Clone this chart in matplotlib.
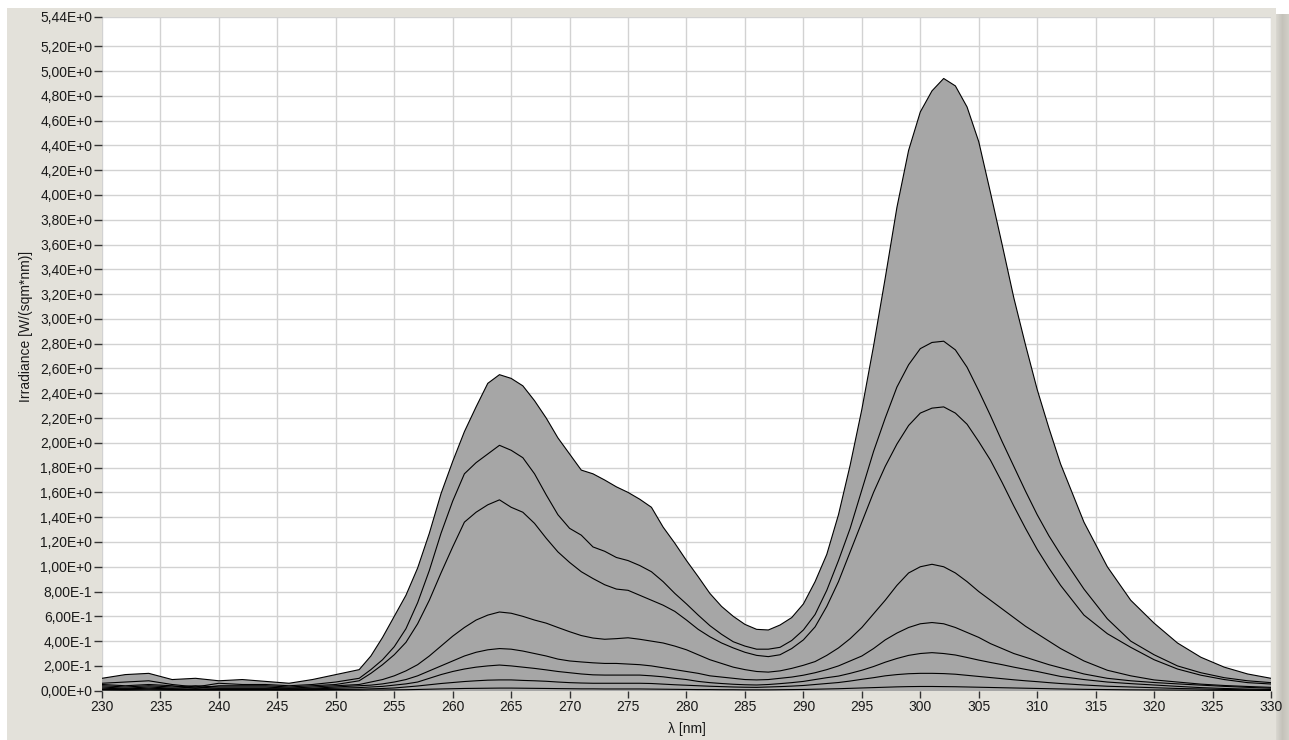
import numpy as np
import matplotlib
matplotlib.use("Agg")
import matplotlib.pyplot as plt
from matplotlib.patches import Rectangle
from matplotlib.ticker import FuncFormatter

plt.rcParams['font.family'] = ['Liberation Sans', 'DejaVu Sans']

# wavelength grid [nm]
wavelength = ([230, 232, 234, 236, 238, 240, 242, 244, 246, 248, 250, 252]
              + list(range(253, 313))
              + [314, 316, 318, 320, 322, 324, 326, 328, 330])

s1 = [0.10, 0.13, 0.14, 0.09, 0.10, 0.08, 0.09, 0.075, 0.06, 0.09, 0.13, 0.17,
      0.28, 0.43, 0.60, 0.77, 0.99, 1.27, 1.59, 1.85, 2.09, 2.29, 2.48, 2.55, 2.52, 2.46,
      2.34, 2.20, 2.04, 1.91, 1.78, 1.75, 1.70, 1.645, 1.60, 1.545, 1.48, 1.32, 1.19, 1.05,
      0.92, 0.785, 0.68, 0.60, 0.535, 0.495, 0.49, 0.53, 0.59, 0.70, 0.88, 1.10, 1.42, 1.82,
      2.27, 2.78, 3.33, 3.90, 4.36, 4.67, 4.84, 4.94, 4.88, 4.71, 4.43, 4.02, 3.60, 3.17,
      2.79, 2.43, 2.12, 1.83,
      1.36, 1.00, 0.73, 0.545, 0.385, 0.27, 0.19, 0.135, 0.10]

s2 = [0.06, 0.07, 0.08, 0.05, 0.03, 0.06, 0.05, 0.05, 0.04, 0.05, 0.07, 0.10,
      0.17, 0.25, 0.355, 0.50, 0.71, 0.97, 1.27, 1.53, 1.75, 1.84, 1.91, 1.98, 1.94, 1.88,
      1.75, 1.58, 1.42, 1.31, 1.255, 1.16, 1.125, 1.075, 1.05, 1.01, 0.96, 0.88, 0.785, 0.70,
      0.61, 0.525, 0.455, 0.395, 0.36, 0.335, 0.335, 0.35, 0.405, 0.49, 0.615, 0.81, 1.05, 1.31,
      1.62, 1.93, 2.20, 2.45, 2.63, 2.76, 2.81, 2.82, 2.75, 2.61, 2.42, 2.22, 2.01, 1.81,
      1.61, 1.42, 1.25, 1.10,
      0.82, 0.58, 0.40, 0.29, 0.20, 0.145, 0.105, 0.08, 0.065]

s3 = [0.05, 0.04, 0.05, 0.04, 0.02, 0.04, 0.04, 0.04, 0.03, 0.04, 0.05, 0.08,
      0.14, 0.21, 0.29, 0.39, 0.54, 0.73, 0.95, 1.16, 1.36, 1.44, 1.50, 1.54, 1.48, 1.44,
      1.35, 1.23, 1.12, 1.035, 0.96, 0.905, 0.855, 0.82, 0.81, 0.77, 0.73, 0.69, 0.64, 0.57,
      0.495, 0.435, 0.385, 0.345, 0.31, 0.285, 0.275, 0.29, 0.34, 0.41, 0.515, 0.68, 0.88, 1.12,
      1.36, 1.60, 1.81, 1.99, 2.14, 2.24, 2.28, 2.29, 2.24, 2.15, 2.01, 1.86, 1.68, 1.49,
      1.31, 1.14, 0.99, 0.85,
      0.61, 0.46, 0.35, 0.25, 0.175, 0.125, 0.09, 0.065, 0.054]

s4 = [0.04, 0.03, 0.04, 0.03, 0.04, 0.03, 0.03, 0.03, 0.02, 0.03, 0.04, 0.05,
      0.07, 0.09, 0.12, 0.16, 0.21, 0.28, 0.36, 0.44, 0.51, 0.57, 0.61, 0.635, 0.625, 0.60,
      0.57, 0.545, 0.51, 0.476, 0.445, 0.425, 0.415, 0.42, 0.427, 0.415, 0.40, 0.385, 0.36, 0.33,
      0.29, 0.25, 0.22, 0.19, 0.17, 0.155, 0.15, 0.16, 0.18, 0.205, 0.235, 0.285, 0.345, 0.42,
      0.51, 0.62, 0.73, 0.85, 0.95, 1.00, 1.02, 1.00, 0.95, 0.88, 0.80, 0.73, 0.66, 0.59,
      0.52, 0.46, 0.40, 0.34,
      0.24, 0.165, 0.12, 0.087, 0.07, 0.053, 0.042, 0.034, 0.027]

s5 = [0.03, 0.02, 0.03, 0.02, 0.03, 0.02, 0.02, 0.02, 0.02, 0.02, 0.03, 0.04,
      0.045, 0.055, 0.07, 0.09, 0.12, 0.16, 0.20, 0.24, 0.28, 0.31, 0.33, 0.34, 0.335, 0.32,
      0.30, 0.28, 0.255, 0.24, 0.232, 0.225, 0.22, 0.22, 0.215, 0.21, 0.20, 0.185, 0.17, 0.155,
      0.14, 0.12, 0.11, 0.10, 0.09, 0.087, 0.09, 0.10, 0.11, 0.125, 0.145, 0.17, 0.20, 0.24,
      0.28, 0.34, 0.41, 0.465, 0.51, 0.54, 0.55, 0.54, 0.51, 0.47, 0.43, 0.38, 0.34, 0.30,
      0.27, 0.24, 0.21, 0.185,
      0.135, 0.10, 0.08, 0.066, 0.055, 0.045, 0.035, 0.027, 0.02]

s6 = [0.02, 0.015, 0.02, 0.015, 0.015, 0.015, 0.015, 0.015, 0.012, 0.015, 0.02, 0.025,
      0.03, 0.035, 0.045, 0.055, 0.07, 0.10, 0.13, 0.155, 0.175, 0.19, 0.20, 0.207, 0.20, 0.19,
      0.18, 0.168, 0.155, 0.145, 0.135, 0.128, 0.126, 0.126, 0.126, 0.126, 0.12, 0.112, 0.10, 0.09,
      0.075, 0.065, 0.058, 0.052, 0.048, 0.046, 0.05, 0.057, 0.065, 0.075, 0.09, 0.105, 0.118, 0.14,
      0.165, 0.195, 0.23, 0.26, 0.285, 0.30, 0.307, 0.30, 0.288, 0.268, 0.247, 0.228, 0.21, 0.19,
      0.172, 0.155, 0.135, 0.115,
      0.09, 0.07, 0.057, 0.046, 0.035, 0.025, 0.018, 0.013, 0.01]

s7 = [0.01, 0.01, 0.012, 0.01, 0.01, 0.01, 0.01, 0.01, 0.008, 0.01, 0.01, 0.012,
      0.015, 0.018, 0.022, 0.03, 0.038, 0.048, 0.058, 0.066, 0.074, 0.08, 0.085, 0.087, 0.087, 0.083,
      0.08, 0.076, 0.07, 0.065, 0.062, 0.06, 0.06, 0.06, 0.06, 0.06, 0.058, 0.053, 0.048, 0.044,
      0.04, 0.036, 0.033, 0.03, 0.028, 0.027, 0.03, 0.033, 0.037, 0.042, 0.05, 0.058, 0.066, 0.078,
      0.092, 0.105, 0.12, 0.13, 0.137, 0.14, 0.14, 0.138, 0.133, 0.124, 0.115, 0.106, 0.097, 0.088,
      0.08, 0.073, 0.065, 0.058,
      0.046, 0.036, 0.03, 0.024, 0.018, 0.014, 0.01, 0.007, 0.005]

s8 = [0.005, 0.004, 0.005, 0.004, 0.004, 0.004, 0.004, 0.004, 0.004, 0.004, 0.005, 0.005,
      0.006, 0.006, 0.007, 0.008, 0.010, 0.012, 0.014, 0.016, 0.018, 0.019, 0.020, 0.021, 0.021, 0.020,
      0.019, 0.018, 0.017, 0.016, 0.015, 0.015, 0.014, 0.014, 0.014, 0.014, 0.013, 0.012, 0.011, 0.010,
      0.009, 0.009, 0.008, 0.008, 0.007, 0.007, 0.007, 0.008, 0.009, 0.010, 0.012, 0.014, 0.016, 0.019,
      0.022, 0.025, 0.028, 0.031, 0.033, 0.034, 0.034, 0.033, 0.032, 0.030, 0.028, 0.026, 0.024, 0.022,
      0.020, 0.018, 0.016, 0.014,
      0.011, 0.009, 0.007, 0.006, 0.005, 0.004, 0.003, 0.003, 0.002]

series = [s1, s2, s3, s4, s5, s6, s7, s8]

y_ticks = [0.0, 0.2, 0.4, 0.6, 0.8, 1.0, 1.2, 1.4, 1.6, 1.8, 2.0, 2.2, 2.4, 2.6,
           2.8, 3.0, 3.2, 3.4, 3.6, 3.8, 4.0, 4.2, 4.4, 4.6, 4.8, 5.0, 5.2, 5.44]
x_ticks = [230, 235, 240, 245, 250, 255, 260, 265, 270, 275, 280, 285, 290,
           295, 300, 305, 310, 315, 320, 325, 330]

W, H = 1289, 740
fig = plt.figure(figsize=(W / 100, H / 100), dpi=100)
fig.patch.set_facecolor('white')

panel_col = '#E3E1DA'
fig.add_artist(Rectangle((7 / W, 0), (1276 - 7) / W, (H - 8) / H,
                         transform=fig.transFigure, facecolor=panel_col,
                         edgecolor='none', zorder=0))
# right shadow strip
sax = fig.add_axes([1276 / W, 0, 13 / W, (H - 14) / H])
grad = np.linspace(0, 1, 13)[None, :]
sax.imshow(grad, aspect='auto', cmap=matplotlib.colors.LinearSegmentedColormap.from_list(
    'g', ['#D8D6CF', '#C4C2BA', '#D0CEC7']), extent=[0, 1, 0, 1])
sax.set_axis_off()

ax_l, ax_r, ax_t, ax_b = 102, 1271, 16.5, 690.7
ax = fig.add_axes([ax_l / W, (H - ax_b) / H, (ax_r - ax_l) / W, (ax_b - ax_t) / H])
ax.set_facecolor('white')
ax.set_xlim(230, 330)
ax.set_ylim(0, 5.44)

x = np.array(wavelength, dtype=float)
fill_col = '#A6A6A6'
for s in series:
    ax.fill_between(x, 0, s, facecolor=fill_col, edgecolor='none', zorder=2)
for s in series:
    ax.plot(x, s, color='black', lw=0.8, zorder=3)

ax.set_xticks(x_ticks)
ax.set_yticks(y_ticks)
ax.grid(True, color='#D2D2D2', lw=1.0, zorder=1)
ax.set_axisbelow(True)
for sp in ax.spines.values():
    sp.set_visible(False)


def yfmt(v, pos):
    v = round(v, 6)
    if v == 0:
        return "0,00E+0"
    e = int(np.floor(np.log10(abs(v)) + 1e-9))
    m = v / 10 ** e
    return (f"{m:.2f}".replace('.', ',')) + f"E{'+' if e >= 0 else '-'}{abs(e)}"


ax.yaxis.set_major_formatter(FuncFormatter(yfmt))
ax.tick_params(axis='y', direction='out', length=6, width=1, color='#333333',
               pad=1, labelsize=10, labelcolor='#1a1a1a')
ax.tick_params(axis='x', direction='out', length=5, width=1, color='#333333',
               pad=2, labelsize=10, labelcolor='#1a1a1a')

fig.text((ax_l + ax_r) / 2 / W, 1 - 729 / H, 'λ [nm]', ha='center', va='center',
         fontsize=10, color='#1a1a1a')
fig.text(26 / W, 1 - 326 / H, 'Irradiance [W/(sqm*nm)]', ha='center', va='center',
         rotation=90, fontsize=10, color='#1a1a1a')

fig.savefig('out.png', dpi=100, facecolor=fig.get_facecolor())
